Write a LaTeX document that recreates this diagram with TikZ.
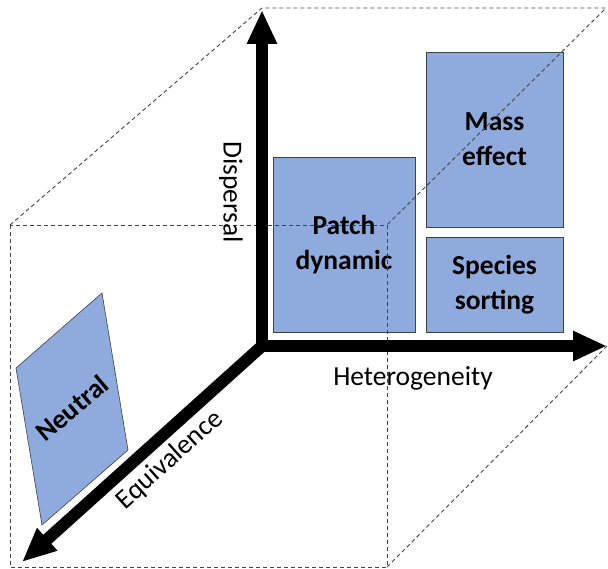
\documentclass[tikz,border=0pt]{standalone}
\usepackage{fontspec}
\setmainfont{Carlito}
\usetikzlibrary{arrows.meta}
\definecolor{boxblue}{HTML}{8FAADC}
\definecolor{boxedge}{HTML}{3A4250}
\definecolor{cubeline}{HTML}{444444}
\begin{document}
\begin{tikzpicture}[x=1pt,y=-1pt,
  region/.style={draw=boxedge, line width=0.9pt, fill=boxblue, inner sep=0pt,
    outer sep=0pt, align=center, font=\bfseries\fontsize{27.5}{35}\selectfont},
  cube/.style={draw=cubeline, line width=0.9pt, dash pattern=on 4pt off 3pt},
  axis/.style={line width=12pt, -{Triangle[length=34pt,width=28pt]}},
  axislabel/.style={font=\fontsize{27.5}{33}\selectfont, inner sep=0pt}]
\useasboundingbox (0,0) rectangle (608,569);

% axis origin and arrow tips
\coordinate (O) at (262,346);
\coordinate (Ybase) at (262,352);
\coordinate (Xbase) at (256,346);
\coordinate (Ytip) at (262,10);
\coordinate (Xtip) at (607,346);
\coordinate (Ztip) at (22,562);

% corners of the dashed cube
\coordinate (FTL) at (10,225);
\coordinate (FTR) at (387,225);
\coordinate (FBR) at (387,567);
\coordinate (BTL) at (262,8);
\coordinate (BTR) at (606,8);

% paradigm regions
\node[region, minimum width=142, minimum height=175] (patch) at (344,244.5) {Patch\\dynamic};
\node[region, minimum width=137, minimum height=175] (mass) at (494.5,139.5) {Mass\\effect};
\node[region, minimum width=137, minimum height=95] (species) at (494.5,284.5) {Species\\sorting};

% neutral plane, lying along the equivalence axis
\coordinate (N1) at (102,293);
\coordinate (N2) at (16,368);
\coordinate (N3) at (42,525);
\coordinate (N4) at (128,450);
\draw[draw=boxedge, line width=0.6pt, fill=boxblue] (N1) -- (N2) -- (N3) -- (N4) -- cycle;
\node[rotate=40, inner sep=0pt, font=\bfseries\fontsize{27.5}{35}\selectfont] (neutral) at (72,408) {Neutral};

% dashed cube edges
\draw[cube] (FTL) rectangle (FBR);
\draw[cube] (FTL) -- (BTL) -- (BTR) -- (FTR);
\draw[cube] (FBR) -- (Xtip);

% axes
\draw[axis] (Ybase) -- (Ytip);
\draw[axis] (Xbase) -- (Xtip);
\draw[axis] (O) -- (Ztip);

% axis labels
\node[axislabel, anchor=base] (het) at (413,385) {Heterogeneity};
\node[axislabel, rotate=-90] (disp) at (231,192) {Dispersal};
\node[axislabel, rotate=42] (equiv) at (170,460) {Equivalence};
\end{tikzpicture}
\end{document}
